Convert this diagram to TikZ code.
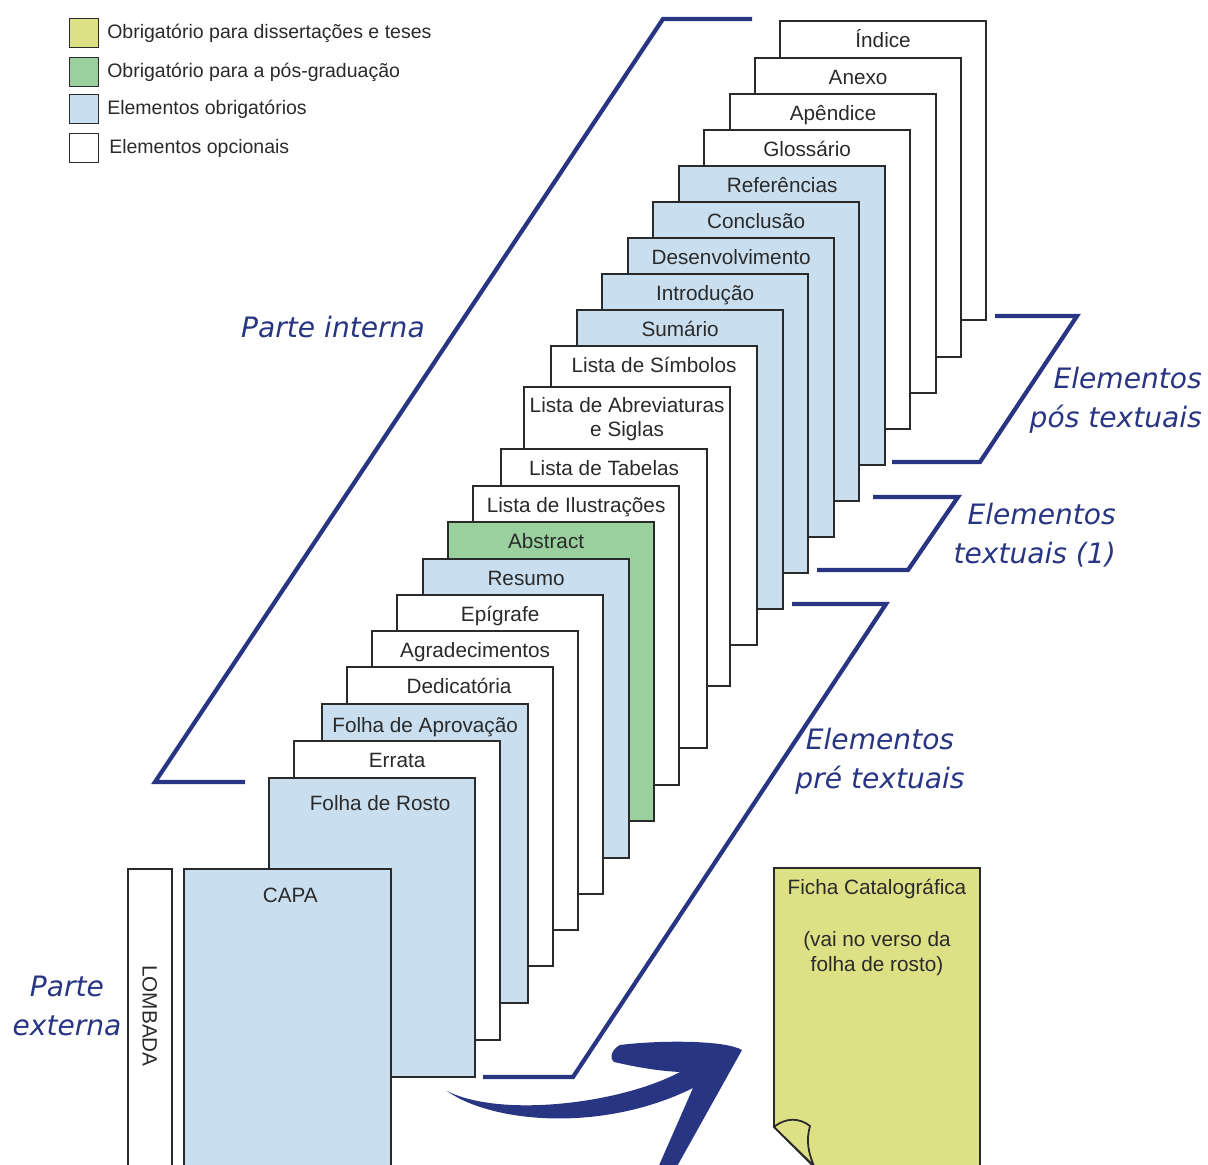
\documentclass[tikz,border=0pt]{standalone}
\usepackage{fontspec}
\setmainfont{Liberation Sans}
\newfontfamily\manuscrita{DejaVu Sans}
\usetikzlibrary{positioning}

\definecolor{azulesc}{HTML}{283583}
\definecolor{azulcl}{HTML}{C9DFF0}
\definecolor{verde}{HTML}{9AD09D}
\definecolor{amarelo}{HTML}{DEE086}
\definecolor{contorno}{HTML}{2A2A2A}

\begin{document}
\begin{tikzpicture}[x=0.02cm,y=-0.02cm,
	folha/.style={draw=contorno,line width=1pt,fill=white,anchor=north west,inner sep=0pt,minimum width=4.13cm,minimum height=5.98cm},
	obrig/.style={folha,fill=azulcl},
	posgrad/.style={folha,fill=verde},
	rotulo/.style={anchor=base,yshift=-0.56cm,inner sep=0pt,text=contorno,font=\fontsize{11.8}{14}\selectfont},
	chave/.style={draw=azulesc,line width=2.4pt},
	manus/.style={text=azulesc,font=\manuscrita\itshape\fontsize{16}{22}\selectfont},
	quad/.style={draw=contorno,line width=0.8pt,minimum size=0.57cm,inner sep=0pt},
	legenda/.style={inner sep=0pt,text=contorno,font=\fontsize{11.1}{13}\selectfont}]
	\useasboundingbox (0,0) rectangle (1208,1165);
	\clip (0,0) rectangle (1208,1165);

	% legenda
	\node[quad,fill=amarelo] (q_amarelo) at (84,33) {};
	\node[quad,fill=verde] (q_verde) at (84,72) {};
	\node[quad,fill=azulcl] (q_azul) at (84,109) {};
	\node[quad,fill=white] (q_branco) at (84,148) {};
	\node[legenda,right=0.16cm of q_amarelo] (t_amarelo) {Obrigatório para dissertações e teses};
	\node[legenda,right=0.16cm of q_verde] (t_verde) {Obrigatório para a pós-graduação};
	\node[legenda,right=0.16cm of q_azul] (t_azul) {Elementos obrigatórios};
	\node[legenda,right=0.2cm of q_branco] (t_branco) {Elementos opcionais};

	% chaves
	\draw[chave] (752,19) -- (663,19) -- (155,782) -- (245,782);
	\draw[chave] (995,316) -- (1077,316) -- (980,462) -- (892,462);
	\draw[chave] (873,497) -- (958,497) -- (908,570) -- (817,570);
	\draw[chave] (792,604) -- (886,604) -- (573,1077) -- (483,1077);

	% folhas, de tras para a frente
	\node[folha,label={[rotulo]north:Índice}] (indice) at (779,20) {};
	\node[folha,label={[rotulo]north:Anexo}] (anexo) at (754,57) {};
	\node[folha,label={[rotulo]north:Apêndice}] (apendice) at (729,93) {};
	\node[folha,label={[rotulo]north:Glossário}] (glossario) at (703,129) {};
	\node[obrig,label={[rotulo]north:Referências}] (referencias) at (678,165) {};
	\node[obrig,label={[rotulo]north:Conclusão}] (conclusao) at (652,201) {};
	\node[obrig,label={[rotulo]north:Desenvolvimento}] (desenvolvimento) at (627,237) {};
	\node[obrig,label={[rotulo]north:Introdução}] (introducao) at (601,273) {};
	\node[obrig,label={[rotulo]north:Sumário}] (sumario) at (576,309) {};
	\node[folha,label={[rotulo]north:Lista de Símbolos}] (simbolos) at (550,345) {};
	\node[folha,label={[rotulo,anchor=north,yshift=0.34cm,align=center]north:Lista de Abreviaturas\\e Siglas}] (abreviaturas) at (523,386) {};
	\node[folha,label={[rotulo]north:Lista de Tabelas}] (tabelas) at (500,448) {};
	\node[folha,label={[rotulo]north:Lista de Ilustrações}] (ilustracoes) at (472,485) {};
	\node[posgrad,label={[rotulo,xshift=-0.1cm]north:Abstract}] (abstract) at (447,521) {};
	\node[obrig,label={[rotulo]north:Resumo}] (resumo) at (422,558) {};
	\node[folha,label={[rotulo]north:Epígrafe}] (epigrafe) at (396,594) {};
	\node[folha,label={[rotulo]north:Agradecimentos}] (agradecimentos) at (371,630) {};
	\node[folha,label={[rotulo,xshift=0.18cm]north:Dedicatória}] (dedicatoria) at (346,666) {};
	\node[obrig,label={[rotulo,yshift=-0.04cm]north:Folha de Aprovação}] (aprovacao) at (321,703) {};
	\node[folha,label={[rotulo]north:Errata}] (errata) at (293,740) {};
	\node[obrig,label={[rotulo,yshift=-0.12cm,xshift=0.16cm]north:Folha de Rosto}] (rosto) at (268,777) {};

	% parte externa
	\node[obrig,minimum width=4.14cm,minimum height=7cm,label={[rotulo,yshift=-0.14cm,xshift=0.06cm]north:CAPA}] (capa) at (183,868) {};
	\node[folha,minimum width=0.88cm,minimum height=7cm] (lombada) at (127,868) {};
	\node[rotate=-90,inner sep=0pt,text=contorno,font=\fontsize{11.8}{14}\selectfont] (t_lombada) at ([yshift=-2.96cm]lombada.north) {LOMBADA};

	% ficha catalografica
	\filldraw[fill=amarelo,draw=contorno,line width=1pt] (774,1127) -- (774,868) -- (980,868) -- (980,1175) -- (822,1175) -- cycle;
	\filldraw[fill=amarelo,draw=contorno,line width=1pt] (774,1127) .. controls (786,1117) and (800,1118) .. (810,1126) .. controls (806,1140) and (808,1152) .. (814,1166) -- cycle;
	\node[inner sep=0pt,align=center,anchor=north,text=contorno,font=\fontsize{11.8}{14}\selectfont] (ficha) at (877,879) {Ficha Catalográfica\\[15.5pt](vai no verso da\\folha de rosto)};

	% seta
	\fill[azulesc] (447,1091)
		.. controls (490,1122) and (600,1134) .. (693,1088)
		-- (657,1170) -- (675,1170) -- (742,1050)
		.. controls (725,1040) and (660,1040) .. (620,1045)
		.. controls (610,1050) and (610,1060) .. (614,1062)
		.. controls (640,1068) and (660,1071) .. (680,1072)
		.. controls (620,1104) and (500,1118) .. (447,1091) -- cycle;

	% textos manuscritos
	\node[manus] (interna) at (333,327) {Parte interna};
	\node[manus,align=right,anchor=east] (postextuais) at (1208,400) {Elementos\\pós textuais};
	\node[manus,align=right,anchor=east] (textuais) at (1122,535) {Elementos\\textuais (1)};
	\node[manus,align=center] (pretextuais) at (880,761) {Elementos\\pré textuais};
	\node[manus,align=center] (externa) at (67,1006) {Parte\\externa};
\end{tikzpicture}
\end{document}
